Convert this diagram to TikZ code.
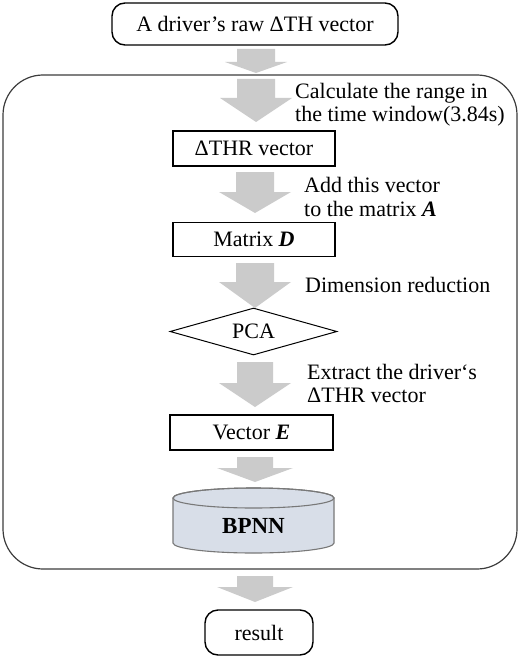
\documentclass[tikz,border=0pt]{standalone}
\usepackage{fontspec}
\setmainfont{Liberation Serif}
\usetikzlibrary{shapes.geometric}
\definecolor{arrowgray}{RGB}{203,203,203}
\definecolor{cylfill}{RGB}{216,222,232}
\definecolor{cylline}{RGB}{120,120,120}
\definecolor{framecol}{RGB}{60,60,60}
\newcommand\garrow[6]{%
  \fill[arrowgray] ({#1-#5},#2) -- ({#1+#5},#2) -- ({#1+#5},#3) -- ({#1+#6},#3)
    -- (#1,#4) -- ({#1-#6},#3) -- ({#1-#5},#3) -- cycle;}
\tikzset{
  txt/.style={font=\fontsize{22}{23.5}\selectfont},
  stepbox/.style={draw, line width=1.4pt, txt, inner sep=0pt},
  roundbox/.style={draw, line width=1.4pt, rounded corners=13pt, txt, inner sep=0pt},
  note/.style={txt, align=left, anchor=west, inner sep=0pt},
}
\begin{document}
\begin{tikzpicture}[x=1pt,y=-1pt]
\useasboundingbox (0,0) rectangle (520,658);
% outer frame
\draw[framecol, line width=1.2pt, rounded corners=40pt] (3,75) rectangle (517,569);
% nodes
\node[roundbox, minimum width=286pt, minimum height=42pt] (raw) at (255,24) {A driver’s raw ΔTH vector};
\node[stepbox, minimum width=162pt, minimum height=35pt] (thr) at (254,148.5) {ΔTHR vector};
\node[stepbox, minimum width=162pt, minimum height=34pt] (matD) at (254,239.5) {Matrix \textbf{\textit{D}}};
\node[diamond, draw, line width=1pt, minimum width=167pt, minimum height=47pt, aspect=3.55, inner sep=0pt, txt] (pca) at (253.5,331.5) {PCA};
\node[stepbox, minimum width=163pt, minimum height=35pt] (vecE) at (251.5,432.5) {Vector \textbf{\textit{E}}};
% cylinder
\filldraw[fill=cylfill, draw=cylline, line width=1.1pt]
  (173,498) -- (173,543) arc[start angle=180, end angle=0, x radius=80.5, y radius=10]
  -- (334,498) arc[start angle=0, end angle=-180, x radius=80.5, y radius=10] -- cycle;
\draw[cylline, line width=1.1pt] (253.5,498) ellipse[x radius=80.5, y radius=10];
\node[font=\fontsize{23}{25}\selectfont\bfseries, inner sep=0pt] (bpnn) at (253.5,526) {BPNN};
\node[roundbox, minimum width=108pt, minimum height=45pt] (res) at (259,632.5) {result};
% labels
\node[note] (l1) at (295,104.5) {Calculate the range in\\the time window(3.84s)};
\node[note] (l2) at (304,197) {Add this vector\\to the matrix \textbf{\textit{A}}};
\node[note] (l3) at (305,285) {Dimension reduction};
\node[note] (l4) at (307,383.5) {Extract the driver‘s\\ΔTHR vector};
% block arrows
\garrow{256}{49}{62}{73}{19}{31}
\garrow{256}{79}{98}{122}{19}{36}
\garrow{255}{172}{192}{213}{19}{36}
\garrow{255}{263}{282}{308}{19}{36}
\garrow{255}{362}{383}{407}{18}{36}
\garrow{255}{457}{468}{482}{18}{38}
\garrow{255}{576}{587}{602}{18}{38}
\end{tikzpicture}
\end{document}
